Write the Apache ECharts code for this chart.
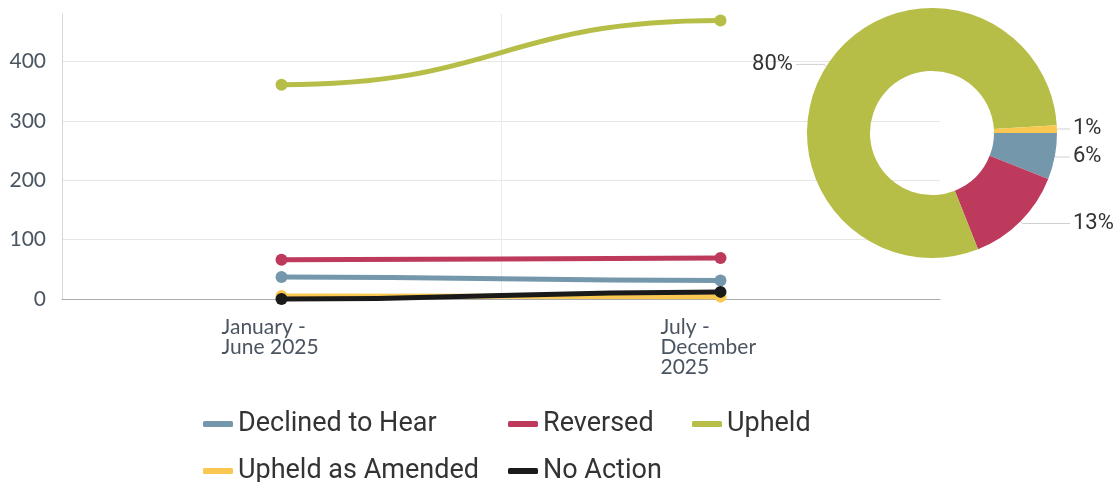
<!DOCTYPE html>
<html>
<head>
<meta charset="utf-8">
<script src="https://cdn.jsdelivr.net/npm/echarts@6/dist/echarts.min.js"></script>
<style>
  html, body { margin: 0; padding: 0; background: #fff; }
  #chart { width: 1120px; height: 482px; }
</style>
</head>
<body>
<div id="chart"></div>
<script>
// Half-year periods on the x axis
const periods = ['January -\nJune 2025', 'July -\nDecember\n2025'];

// Case outcomes per period
const declinedToHear = [37, 31];
const reversed = [66, 69];
const upheld = [361, 469];
const upheldAsAmended = [5, 4];
const noAction = [0, 12];

// Share of all outcomes (percent), shown in the donut
const shareNames = ['Declined to Hear', 'Reversed', 'Upheld', 'Upheld as Amended'];
const shareValues = [6, 13, 80, 1];

const yTicks = { min: 0, max: 480, interval: 100 };

const palette = {
  'Declined to Hear': '#7597ac',
  'Reversed': '#bd3a5c',
  'Upheld': '#b6be48',
  'Upheld as Amended': '#fac850',
  'No Action': '#1a1a1a'
};

// Each outcome is drawn as a spline with flat tangents at every point,
// plus a round marker on each period.
function outcomeSeries(name, values, z) {
  const color = palette[name];
  return {
    name: name,
    type: 'custom',
    z: z,
    coordinateSystem: 'cartesian2d',
    data: values.map((v, i) => [i, v]),
    encode: { x: 0, y: 1 },
    itemStyle: { color: color },
    emphasis: { disabled: true },
    renderItem: function (params, api) {
      const i = params.dataIndex;
      const p = api.coord([api.value(0), api.value(1)]);
      const children = [];
      if (i + 1 < values.length) {
        const q = api.coord([i + 1, values[i + 1]]);
        const half = (q[0] - p[0]) * 0.5;
        children.push({
          type: 'bezierCurve',
          shape: {
            x1: p[0], y1: p[1], x2: q[0], y2: q[1],
            cpx1: p[0] + half, cpy1: p[1],
            cpx2: q[0] - half, cpy2: q[1]
          },
          style: { stroke: color, lineWidth: 5, fill: 'none', lineCap: 'round' }
        });
      }
      children.push({
        type: 'circle',
        shape: { cx: p[0], cy: p[1], r: 6 },
        style: { fill: color }
      });
      return { type: 'group', children: children };
    }
  };
}

const lineSeries = [
  ['Declined to Hear', declinedToHear],
  ['Reversed', reversed],
  ['Upheld', upheld],
  ['Upheld as Amended', upheldAsAmended],
  ['No Action', noAction]
].map(([name, data], i) => outcomeSeries(name, data, 2 + i));

// Donut geometry and label leader lines: labels on the right share one column.
const pie = { cx: 932, cy: 133, inner: 62, outer: 125, startAngle: 0 };
const leader = { first: 3, rightColumnX: 1070, leftSecond: 28 };

const shareTotal = shareValues.reduce((a, b) => a + b, 0);
let shareAcc = 0;
const pieData = shareNames.map((name, i) => {
  const v = shareValues[i];
  const mid = (pie.startAngle - (shareAcc + v / 2) / shareTotal * 360) * Math.PI / 180;
  shareAcc += v;
  const elbowX = pie.cx + (pie.outer + leader.first) * Math.cos(mid);
  const onRight = Math.cos(mid) >= 0;
  const item = {
    name: name,
    value: v,
    itemStyle: { color: palette[name] },
    labelLine: { length2: onRight ? Math.max(2, leader.rightColumnX - elbowX) : leader.leftSecond }
  };
  if (!onRight) {
    // left-hand label sits slightly below its leader line
    item.label = { padding: [10, 0, 0, 0] };
  }
  return item;
});

const legendText = { fontFamily: 'Roboto', fontSize: 27, color: '#333', lineHeight: 30 };
const legendBase = {
  orient: 'horizontal', padding: 0,
  icon: 'roundRect', itemWidth: 30, itemHeight: 6, itemGap: 10,
  textStyle: legendText
};

const option = {
  animation: false,
  grid: { left: 62, right: 180, top: 14, bottom: 183 },
  legend: [
    Object.assign({}, legendBase, {
      left: 203, top: 409,
      data: [
        { name: 'Declined to Hear', textStyle: { width: 260 } },
        { name: 'Reversed', textStyle: { width: 139 } },
        { name: 'Upheld' }
      ]
    }),
    Object.assign({}, legendBase, {
      left: 203, top: 456,
      data: [
        { name: 'Upheld as Amended', textStyle: { width: 260 } },
        { name: 'No Action' }
      ]
    })
  ],
  xAxis: {
    type: 'category',
    data: periods,
    boundaryGap: true,
    axisLine: { lineStyle: { color: '#ababab', width: 1 } },
    axisTick: { show: false },
    splitLine: {
      show: true,
      lineStyle: { color: ['rgba(0,0,0,0)', '#ebebeb', 'rgba(0,0,0,0)'] }
    },
    axisLabel: {
      interval: 0,
      align: 'left',
      padding: [0, 0, 0, -60],
      margin: 18,
      fontFamily: 'Lato',
      fontSize: 21,
      lineHeight: 20,
      color: '#4a5561'
    }
  },
  yAxis: {
    type: 'value',
    min: yTicks.min,
    max: yTicks.max,
    interval: yTicks.interval,
    axisLine: { show: true, lineStyle: { color: '#d6d6d6' } },
    axisTick: { show: false },
    splitLine: { show: true, showMaxLine: false, lineStyle: { color: '#e6e6e6' } },
    axisLabel: {
      showMaxLabel: false,
      margin: 16,
      fontFamily: 'Lato',
      fontSize: 21,
      color: '#4a5561'
    }
  },
  series: lineSeries.concat([{
    name: 'Share',
    type: 'pie',
    center: [pie.cx, pie.cy],
    radius: [pie.inner, pie.outer],
    startAngle: pie.startAngle,
    clockwise: true,
    z: 10,
    emphasis: { disabled: true },
    label: {
      show: true,
      position: 'outside',
      alignTo: 'none',
      bleedMargin: 0,
      overflow: 'none',
      formatter: '{c}%',
      fontFamily: 'Roboto',
      fontSize: 22,
      color: '#333',
      distanceToLabelLine: 3
    },
    labelLine: {
      show: true,
      length: leader.first,
      length2: 12,
      lineStyle: { color: '#d0d0d0', width: 1 }
    },
    data: pieData
  }])
};

const chart = echarts.init(document.getElementById('chart'), null, { renderer: 'canvas' });
chart.setOption(option);
</script>
</body>
</html>
